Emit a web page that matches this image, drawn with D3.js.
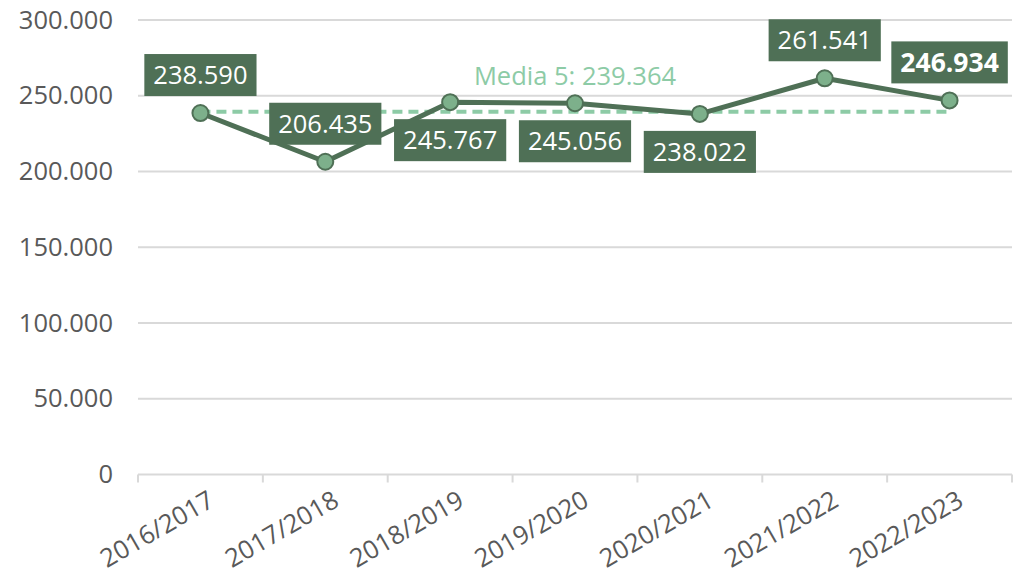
<!DOCTYPE html>
<html>
<head>
<meta charset="utf-8">
<script src="https://cdn.jsdelivr.net/npm/d3@7"></script>
<style>
  body { margin: 0; background: #fff; }
  svg { display: block; font-family: "Open Sans", sans-serif; }
</style>
</head>
<body>
<div id="chart"></div>
<script>
// Data
const categories = ["2016/2017", "2017/2018", "2018/2019", "2019/2020", "2020/2021", "2021/2022", "2022/2023"];
const values = [238590, 206435, 245767, 245056, 238022, 261541, 246934];
const labelSide = ["above", "above", "below", "below", "below", "above", "above"];
const average = 239364;
const averageLabel = "Media 5: 239.364";
const yTicks = [0, 50000, 100000, 150000, 200000, 250000, 300000];

// Configuration
const width = 1023;
const height = 575;
const margin = { top: 20, right: 11, bottom: 100, left: 138 };
const fontSize = "25.5px";

const darkGreen = "#4f7056";
const lightGreen = "#7db08b";
const avgGreen = "#8dcba6";

const locale = d3.formatLocale({ decimal: ",", thousands: ".", grouping: [3], currency: ["", ""] });
const fmt = locale.format(",.0f");

const svg = d3.select("#chart")
    .append("svg")
    .attr("width", width)
    .attr("height", height);

const x = d3.scaleBand()
    .domain(categories)
    .range([margin.left, width - margin.right])
    .padding(0);

const y = d3.scaleLinear()
    .domain([0, 300000])
    .range([height - margin.bottom - 0.5, margin.top]);

const cx = d => x(d) + x.bandwidth() / 2;

// Gridlines
svg.append("g")
    .selectAll("line")
    .data(yTicks)
    .enter().append("line")
    .attr("x1", margin.left)
    .attr("x2", width - margin.right)
    .attr("y1", d => y(d))
    .attr("y2", d => y(d))
    .attr("stroke", "#d9d9d9")
    .attr("stroke-width", 2);

// Y axis labels
const yAxis = svg.append("g")
    .attr("transform", `translate(${margin.left},0)`)
    .call(d3.axisLeft(y).tickValues(yTicks).tickFormat(fmt).tickSize(0).tickPadding(25));
yAxis.select(".domain").remove();
yAxis.selectAll("text")
    .attr("fill", "#595959")
    .style("font-size", fontSize)
    .style("font-family", "Open Sans, sans-serif");

// X axis: ticks at band boundaries
const boundaries = categories.map(c => x(c)).concat([x(categories[categories.length - 1]) + x.bandwidth()]);
svg.append("g")
    .selectAll("line")
    .data(boundaries)
    .enter().append("line")
    .attr("x1", d => d)
    .attr("x2", d => d)
    .attr("y1", y(0))
    .attr("y2", y(0) + 8)
    .attr("stroke", "#d9d9d9")
    .attr("stroke-width", 2);

svg.append("g")
    .selectAll("text")
    .data(categories)
    .enter().append("text")
    .attr("transform", d => `translate(${cx(d) + 11},${y(0) + 23}) rotate(-30)`)
    .attr("text-anchor", "end")
    .attr("dy", "0.35em")
    .attr("fill", "#595959")
    .style("font-size", fontSize)
    .text(d => d);

// Average line
svg.append("line")
    .attr("x1", cx(categories[0]))
    .attr("x2", cx(categories[categories.length - 1]))
    .attr("y1", y(average))
    .attr("y2", y(average))
    .attr("stroke", avgGreen)
    .attr("stroke-width", 4)
    .attr("stroke-dasharray", "10,6");

svg.append("text")
    .attr("x", cx(categories[3]))
    .attr("y", y(average) - 36)
    .attr("dy", "0.35em")
    .attr("text-anchor", "middle")
    .attr("fill", avgGreen)
    .style("font-size", fontSize)
    .text(averageLabel);

// Line
const line = d3.line()
    .x((d, i) => cx(categories[i]))
    .y(d => y(d));

svg.append("path")
    .datum(values)
    .attr("d", line)
    .attr("fill", "none")
    .attr("stroke", darkGreen)
    .attr("stroke-width", 5)
    .attr("stroke-linejoin", "round");

// Points
svg.append("g")
    .selectAll("circle")
    .data(values)
    .enter().append("circle")
    .attr("cx", (d, i) => cx(categories[i]))
    .attr("cy", d => y(d))
    .attr("r", 8)
    .attr("fill", lightGreen)
    .attr("stroke", darkGreen)
    .attr("stroke-width", 2);

// Data labels
const labels = svg.append("g")
    .selectAll("g")
    .data(values)
    .enter().append("g")
    .attr("transform", (d, i) => `translate(${cx(categories[i])},${y(d) + (labelSide[i] === "above" ? -38 : 38)})`);

labels.append("text")
    .attr("text-anchor", "middle")
    .attr("dy", "0.35em")
    .attr("fill", "#fff")
    .style("font-size", (d, i) => i === values.length - 1 ? "26.5px" : fontSize)
    .style("font-weight", (d, i) => i === values.length - 1 ? "bold" : "normal")
    .text(d => fmt(d));

labels.each(function() {
    const g = d3.select(this);
    const bb = g.select("text").node().getBBox();
    g.insert("rect", "text")
        .attr("x", bb.x - 9)
        .attr("y", -21)
        .attr("width", bb.width + 18)
        .attr("height", 42)
        .attr("fill", darkGreen);
});
</script>
</body>
</html>
